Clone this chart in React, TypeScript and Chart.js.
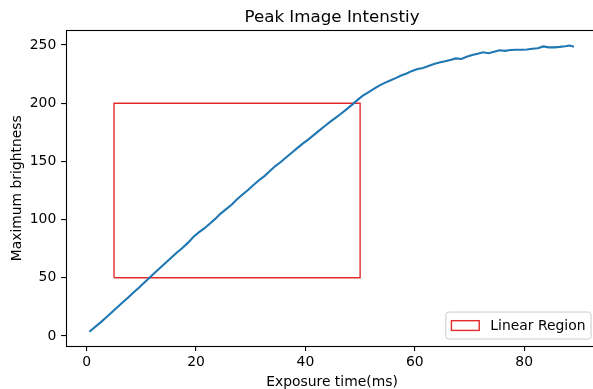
import { useEffect, useRef } from "react";
import { Chart, registerables } from "chart.js";

Chart.register(...registerables);

const exposureMs = [
  0.5, 1.5, 2.5, 3.5, 4.5, 5.5, 6.5, 7.5, 8.5, 9.5,
  10.5, 11.5, 12.5, 13.5, 14.5, 15.5, 16.5, 17.5, 18.5, 19.5,
  20.5, 21.5, 22.5, 23.5, 24.5, 25.5, 26.5, 27.5, 28.5, 29.5,
  30.5, 31.5, 32.5, 33.5, 34.5, 35.5, 36.5, 37.5, 38.5, 39.5,
  40.5, 41.5, 42.5, 43.5, 44.5, 45.5, 46.5, 47.5, 48.5, 49.5,
  50.5, 51.5, 52.5, 53.5, 54.5, 55.5, 56.5, 57.5, 58.5, 59.5,
  60.5, 61.5, 62.5, 63.5, 64.5, 65.5, 66.5, 67.5, 68.5, 69.5,
  70.5, 71.5, 72.5, 73.5, 74.5, 75.5, 76.5, 77.5, 78.5, 79.5,
  80.5, 81.5, 82.5, 83.5, 84.5, 85.5, 86.5, 87.5, 88.3, 89.1,
];

const maxBrightness = [
  3.7, 7.6, 11.5, 15.6, 19.9, 24.2, 28.5, 32.6, 37.2, 41.3,
  45.7, 50.0, 54.5, 58.8, 63.2, 67.5, 71.7, 75.6, 80.0, 85.0,
  89.0, 92.4, 96.5, 100.6, 105.2, 109.0, 112.8, 117.5, 121.6, 125.5,
  129.8, 133.8, 137.4, 141.8, 146.0, 149.5, 153.6, 157.5, 161.4, 165.3,
  168.8, 172.6, 176.5, 180.2, 184.0, 187.4, 191.0, 194.7, 198.6, 202.7,
  206.5, 209.4, 212.3, 215.2, 217.5, 219.5, 221.6, 223.8, 225.6, 227.8,
  229.4, 230.3, 232.0, 233.8, 235.0, 236.0, 237.2, 238.5, 238.0, 240.0,
  241.5, 242.5, 243.8, 243.0, 244.2, 245.5, 245.0, 245.7, 246.0, 246.0,
  246.2, 246.8, 247.3, 248.8, 248.0, 248.0, 248.4, 249.0, 249.6, 248.5,
];

const regionX = [5, 50, 50, 5, 5];
const regionY = [50, 50, 200, 200, 50];

const xTicks = [0, 20, 40, 60, 80];
const yTicks = [0, 50, 100, 150, 200, 250];

const titleText = "Peak Image Intenstiy";
const xLabel = "Exposure time(ms)";
const yLabel = "Maximum brightness";
const legendLabel = "Linear Region";

const FONT = '"DejaVu Sans", sans-serif';
const TICK_FS = 13.9;
const TITLE_FS = 16.7;
const RED = "#e32b2b";
const BLUE = "#1f77b4";

const decorPlugin = {
  id: "decor",
  afterDatasetsDraw(chart: any) {
    const { ctx, chartArea: a } = chart;
    ctx.save();
    // spines
    ctx.strokeStyle = "#000";
    ctx.lineWidth = 1.1;
    const l = Math.floor(a.left) + 0.5;
    const t = Math.floor(a.top) + 0.5;
    const b = Math.floor(a.bottom) + 0.5;
    const r = Math.floor(a.right) + 0.5;
    ctx.strokeRect(l, t, r - l, b - t);

    // legend
    const fs = TICK_FS;
    ctx.font = `${fs}px ${FONT}`;
    const tw = ctx.measureText(legendLabel).width;
    const pad = 0.4 * fs;
    const handleLen = 2 * fs;
    const textPad = 0.8 * fs;
    const boxW = pad * 2 + handleLen + textPad + tw;
    const boxH = 27;
    const boxR = a.right - 0.5 * fs;
    const boxB = a.bottom - 0.5 * fs;
    const boxL = boxR - boxW;
    const boxT = boxB - boxH;
    const rad = 0.2 * fs;
    ctx.beginPath();
    ctx.roundRect(boxL, boxT, boxW, boxH, rad);
    ctx.fillStyle = "rgba(255,255,255,0.8)";
    ctx.fill();
    ctx.strokeStyle = "#cccccc";
    ctx.lineWidth = 1;
    ctx.stroke();
    const cy = boxT + boxH / 2;
    const ph = 0.7 * fs;
    ctx.strokeStyle = RED;
    ctx.lineWidth = 1.4;
    ctx.strokeRect(boxL + pad, cy - ph / 2, handleLen, ph);
    ctx.fillStyle = "#000";
    ctx.textAlign = "left";
    ctx.textBaseline = "middle";
    ctx.fillText(legendLabel, boxL + pad + handleLen + textPad, cy + 0.5);
    ctx.restore();
  },
  afterDraw(chart: any) {
    const { ctx, chartArea: a } = chart;
    ctx.save();
    ctx.fillStyle = "#000";
    const cx = (a.left + a.right) / 2;
    ctx.font = `${TITLE_FS}px ${FONT}`;
    ctx.textAlign = "center";
    ctx.textBaseline = "alphabetic";
    ctx.fillText(titleText, cx, 22);
    ctx.font = `${TICK_FS}px ${FONT}`;
    ctx.fillText(xLabel, cx, 386);
    ctx.translate(21, (a.top + a.bottom) / 2);
    ctx.rotate(-Math.PI / 2);
    ctx.fillText(yLabel, 0, 0);
    ctx.restore();
  },
};

export default function App() {
  const ref = useRef<HTMLCanvasElement | null>(null);

  useEffect(() => {
    const canvas = ref.current;
    if (!canvas) return;
    const chart = new Chart(canvas, {
      type: "line",
      data: {
        datasets: [
          {
            label: "Peak",
            data: exposureMs.map((x, i) => ({ x, y: maxBrightness[i] })),
            borderColor: BLUE,
            borderWidth: 2.1,
            pointRadius: 0,
            tension: 0,
            fill: false,
          },
          {
            label: legendLabel,
            data: regionX.map((x, i) => ({ x, y: regionY[i] })),
            borderColor: RED,
            borderWidth: 1.4,
            pointRadius: 0,
            tension: 0,
            fill: false,
          },
        ],
      },
      options: {
        responsive: false,
        animation: false,
        events: [],
        devicePixelRatio: 1,
        layout: { padding: { top: 30.5, right: 8, left: 0, bottom: 0 } },
        plugins: {
          legend: { display: false },
          tooltip: { enabled: false },
          title: { display: false },
        },
        scales: {
          x: {
            type: "linear",
            min: -3.78,
            max: 93.5,
            afterBuildTicks: (s: any) => {
              s.ticks = xTicks.map((v) => ({ value: v }));
            },
            afterFit: (s: any) => {
              s.height = 43;
            },
            grid: {
              display: true,
              drawOnChartArea: false,
              drawTicks: true,
              tickLength: 4.9,
              color: "#000",
              lineWidth: 1.1,
            },
            border: { display: false },
            ticks: {
              color: "#000",
              font: { family: FONT, size: TICK_FS },
              padding: 3,
              maxRotation: 0,
              autoSkip: false,
            },
          },
          y: {
            type: "linear",
            min: -8.6,
            max: 262.5,
            afterBuildTicks: (s: any) => {
              s.ticks = yTicks.map((v) => ({ value: v }));
            },
            afterFit: (s: any) => {
              s.width = 66;
            },
            grid: {
              display: true,
              drawOnChartArea: false,
              drawTicks: true,
              tickLength: 4.9,
              color: "#000",
              lineWidth: 1.1,
            },
            border: { display: false },
            ticks: {
              color: "#000",
              font: { family: FONT, size: TICK_FS },
              padding: 4.8,
              autoSkip: false,
            },
          },
        },
      },
      plugins: [decorPlugin],
    });
    return () => chart.destroy();
  }, []);

  return (
    <div
      style={{
        position: "fixed",
        left: 0,
        top: 0,
        width: 593,
        height: 389,
        overflow: "hidden",
        background: "#fff",
      }}
    >
      <canvas ref={ref} width={606} height={389} style={{ display: "block", width: 606, height: 389 }} />
    </div>
  );
}
